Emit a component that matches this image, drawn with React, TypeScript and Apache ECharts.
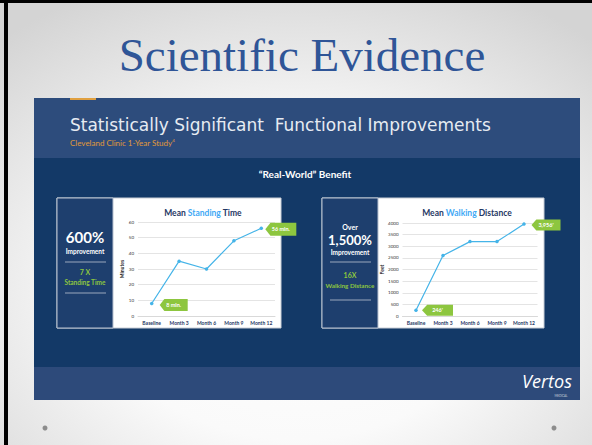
import React, { useEffect, useRef } from "react";
import * as echarts from "echarts";

const months = ["Baseline", "Month 3", "Month 6", "Month 9", "Month 12"];
const standingMinutes = [8, 35, 30, 48, 56];
const walkingFeet = [246, 2600, 3200, 3200, 3956];
const standingTicks = { min: 0, max: 60, interval: 10 };
const walkingTicks = { min: 0, max: 4000, interval: 500 };
const standingCallouts = ["8 min.", "56 min."];
const walkingCallouts = ["246'", "3,956'"];

const NAVY_TXT = "#1f3864";
const LINE = "#45b4e8";
const GREEN = "#8dc63f";
const ARROW = "path://M0,6 L5,0 L30,0 L30,12 L5,12 Z";

function txt(text: string, x: number, y: number, font: string, fill: string, align = "center", extra: any = {}) {
  return {
    type: "text",
    style: { text, x, y, font, fill, textAlign: align, align, textVerticalAlign: "middle", verticalAlign: "middle", ...extra },
  };
}

export default function App() {
  const ref = useRef<HTMLDivElement>(null);
  useEffect(() => {
    document.body.style.margin = "0";
    const chart = echarts.init(ref.current!, null, { renderer: "svg" });
    const sans = "Lato, 'Open Sans', sans-serif";
    const card = (x: number, w: number, dw: number) => [
      { type: "rect", shape: { x, y: 198, width: w, height: 130 }, style: { fill: "#ffffff", stroke: "#c9ced6", lineWidth: 1 } },
      { type: "rect", shape: { x, y: 198, width: dw, height: 130 }, style: { fill: "#1e3f6e", stroke: "#b8c2d0", lineWidth: 1 } },
    ];
    const hline = (x1: number, x2: number, y: number) => ({
      type: "line",
      shape: { x1, y1: y, x2, y2: y },
      style: { stroke: "#9aa8bc", lineWidth: 1 },
    });
    const axisCommon = {
      axisLine: { show: true, lineStyle: { color: "#d9d9d9" } },
      axisTick: { show: false },
      axisLabel: { fontSize: 5, color: NAVY_TXT, margin: 4, fontWeight: "bold", interval: 0, fontFamily: sans },
    };
    const yCommon = {
      type: "value",
      axisLine: { show: false },
      axisTick: { show: false },
      splitLine: { lineStyle: { color: "#e4e4e4", width: 1 } },
      axisLabel: { fontSize: 4.5, color: "#333", margin: 4, fontFamily: sans, formatter: (v: number) => String(v) },
      nameLocation: "middle",
      nameRotate: 90,
      nameTextStyle: { fontSize: 5, fontWeight: "bold", color: "#222", fontFamily: sans },
    };
    const markLabel = { show: true, formatter: "{b}", color: "#ffffff", fontSize: 5.5, fontWeight: "bold", fontFamily: sans, position: "inside" };
    const titleRich = {
      a: { fontSize: 8.5, fontWeight: "bold", color: NAVY_TXT, fontFamily: sans },
      b: { fontSize: 8.5, fontWeight: "bold", color: "#3fa9f5", fontFamily: sans },
    };
    chart.setOption({
      animation: false,
      graphic: [
        {
          type: "rect",
          z: -10,
          shape: { x: 0, y: 0, width: 592, height: 445 },
          style: {
            fill: new echarts.graphic.RadialGradient(0.5, 0.65, 0.75, [
              { offset: 0, color: "#ffffff" },
              { offset: 0.45, color: "#fafafa" },
              { offset: 1, color: "#d4d4d4" },
            ]),
          },
        },
        { type: "rect", z: -9, shape: { x: 0, y: 0, width: 592, height: 3 }, style: { fill: "#000" } },
        { type: "rect", z: -9, shape: { x: 4, y: 0, width: 4, height: 445 }, style: { fill: "#000" } },
        txt("Scientific Evidence", 302, 55, "47px 'Liberation Serif', 'DejaVu Serif', serif", "#2f5597"),
        { type: "rect", z: -8, shape: { x: 34, y: 98, width: 546, height: 302 }, style: { fill: "#133967" } },
        { type: "rect", z: -8, shape: { x: 34, y: 98, width: 546, height: 60 }, style: { fill: "#2d4c7c" } },
        { type: "rect", z: -8, shape: { x: 34, y: 367, width: 546, height: 33 }, style: { fill: "#2d4a7a" } },
        { type: "rect", z: -7, shape: { x: 70, y: 98, width: 26, height: 2 }, style: { fill: "#e0a040" } },
        txt("Statistically Significant  Functional Improvements", 70, 125, "17px 'DejaVu Sans', sans-serif", "#e6ebf2", "left"),
        {
          type: "text",
          style: {
            text: "{a|Cleveland Clinic 1-Year Study}{s|4}",
            x: 70,
            y: 143,
            textAlign: "left",
            align: "left",
            textVerticalAlign: "middle",
            verticalAlign: "middle",
            rich: {
              a: { fontSize: 8, fontFamily: sans, fill: "#e09a3a", color: "#e09a3a" },
              s: { fontSize: 4.5, fontFamily: sans, fill: "#e09a3a", color: "#e09a3a", padding: [0, 0, 5, 0] },
            },
          },
        },
        txt("“Real-World” Benefit", 305, 174, "bold 10px " + sans, "#ffffff"),
        ...card(57, 224, 56),
        ...card(322, 222, 56),
        txt("600%", 85, 237, "bold 15px " + sans, "#ffffff"),
        txt("Improvement", 85, 251, "bold 6.5px " + sans, "#ffffff"),
        hline(65, 106, 262),
        txt("7 X", 85, 272, "bold 7px " + sans, GREEN),
        txt("Standing Time", 85, 282, "bold 6.5px " + sans, GREEN),
        hline(65, 106, 293),
        txt("Over", 350, 227, "bold 7px " + sans, "#ffffff"),
        txt("1,500%", 350, 240, "bold 13px " + sans, "#ffffff"),
        txt("Improvement", 350, 252, "bold 6.5px " + sans, "#ffffff"),
        hline(330, 371, 262),
        txt("16X", 350, 275, "bold 7px " + sans, GREEN),
        txt("Walking Distance", 350, 285, "bold 6.3px " + sans, GREEN),
        hline(330, 371, 300),
        txt("Vertos", 547, 381, "italic 18px 'Open Sans', sans-serif", "#ffffff"),
        txt("MEDICAL", 561, 396, "3px " + sans, "#c8d0dc"),
        { type: "circle", shape: { cx: 45, cy: 428, r: 2.5 }, style: { fill: "#8c8c8c" } },
        { type: "circle", shape: { cx: 554, cy: 428, r: 2.5 }, style: { fill: "#8c8c8c" } },
      ],
      title: [
        { text: "{a|Mean }{b|Standing}{a| Time}", left: 198, top: 203, textAlign: "center", textStyle: { rich: titleRich } },
        { text: "{a|Mean }{b|Walking}{a| Distance}", left: 462, top: 203, textAlign: "center", textStyle: { rich: titleRich } },
      ],
      grid: [
        { left: 138, top: 222, width: 137, height: 94 },
        { left: 402.5, top: 223, width: 135, height: 93 },
      ],
      xAxis: [
        { type: "category", gridIndex: 0, data: months, ...axisCommon },
        { type: "category", gridIndex: 1, data: months, ...axisCommon },
      ],
      yAxis: [
        { ...yCommon, gridIndex: 0, ...standingTicks, name: "Minutes", nameGap: 14 },
        { ...yCommon, gridIndex: 1, ...walkingTicks, name: "Feet", nameGap: 14 },
      ],
      series: [
        {
          type: "line",
          xAxisIndex: 0,
          yAxisIndex: 0,
          data: standingMinutes,
          symbol: "circle",
          symbolSize: 3.5,
          lineStyle: { color: LINE, width: 1.2 },
          itemStyle: { color: LINE },
          markPoint: {
            symbol: ARROW,
            itemStyle: { color: GREEN },
            label: markLabel,
            data: [
              { name: standingCallouts[0], coord: [months[0], standingMinutes[0]], symbolSize: [28, 12], symbolOffset: [22, 1.5] },
              { name: standingCallouts[1], coord: [months[4], standingMinutes[4]], symbolSize: [31, 13], symbolOffset: [19.5, 1] },
            ],
          },
        },
        {
          type: "line",
          xAxisIndex: 1,
          yAxisIndex: 1,
          data: walkingFeet,
          symbol: "circle",
          symbolSize: 3.5,
          lineStyle: { color: LINE, width: 1.2 },
          itemStyle: { color: LINE },
          markPoint: {
            symbol: ARROW,
            itemStyle: { color: GREEN },
            label: markLabel,
            data: [
              { name: walkingCallouts[0], coord: [months[0], walkingFeet[0]], symbolSize: [31, 11], symbolOffset: [21.5, 0] },
              { name: walkingCallouts[1], coord: [months[4], walkingFeet[4]], symbolSize: [29, 11], symbolOffset: [22, 1] },
            ],
          },
        },
      ],
    });
    return () => chart.dispose();
  }, []);
  return <div ref={ref} style={{ width: 592, height: 445 }} />;
}
